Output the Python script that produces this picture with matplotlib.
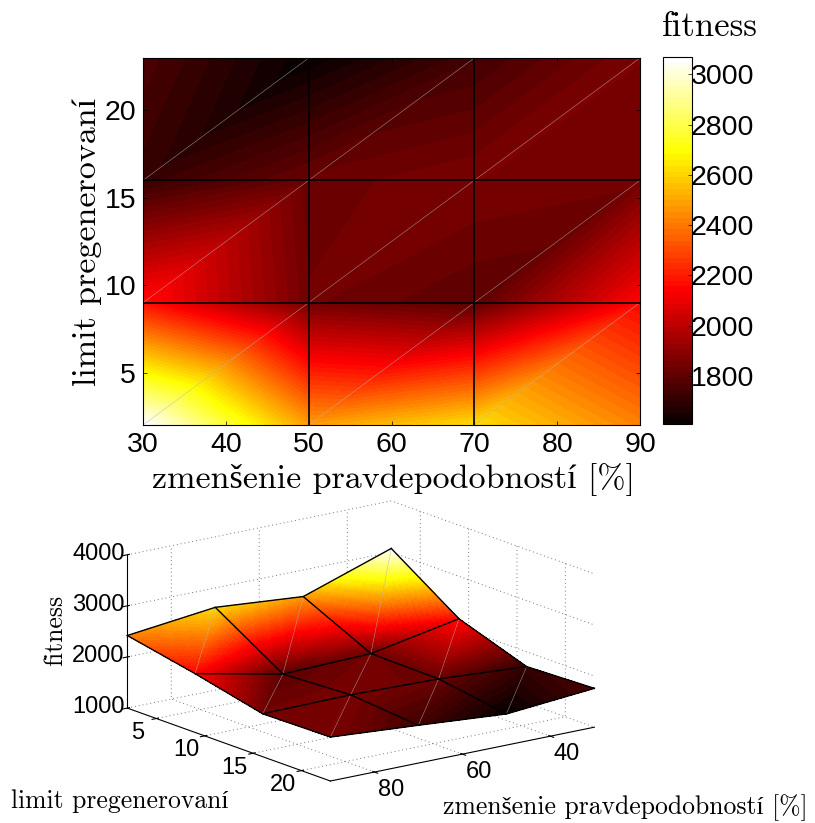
import numpy as np
import matplotlib
matplotlib.use('Agg')
import matplotlib.pyplot as plt
import matplotlib.tri as mtri
from matplotlib.cm import ScalarMappable
from matplotlib.colors import Normalize

plt.rcParams['font.family'] = ['Liberation Sans', 'DejaVu Sans']
plt.rcParams['grid.linestyle'] = (0, (1, 3))
plt.rcParams['grid.color'] = '#777777'
plt.rcParams['grid.linewidth'] = 0.7

## data
zmensenie = [30, 50, 70, 90]
limit = [2, 9, 16, 23]
fit_y2 = [3070, 2480, 2620, 2420]
fit_y9 = [2170, 1840, 1790, 2150]
fit_y16 = [1710, 1820, 1860, 1840]
fit_y23 = [1760, 1610, 1740, 1860]
xticks_top = [30, 40, 50, 60, 70, 80, 90]
yticks_top = [5, 10, 15, 20]
cbar_ticks = [1800, 2000, 2200, 2400, 2600, 2800, 3000]
xticks_3d = [40, 60, 80]
zticks_3d = [1000, 2000, 3000, 4000]
cmin, cmax = 1608, 3069

label_x = 'zmenšenie pravdepodobností [%]'
label_y = 'limit pregenerovaní'
label_z = 'fitness'
cm_font = ['cmr10', 'Liberation Serif']

X, Y = np.meshgrid(zmensenie, limit)
Z = np.array([fit_y2, fit_y9, fit_y16, fit_y23], dtype=float)
nx, ny = len(zmensenie), len(limit)

# every cell is two triangles, diagonal goes lower left -> upper right
tris = []
for j in range(ny - 1):
    for i in range(nx - 1):
        a = j * nx + i
        tris.append([a, a + 1, a + nx + 1])
        tris.append([a, a + nx + 1, a + nx])
tri = mtri.Triangulation(X.ravel(), Y.ravel(), tris)

cmap = plt.get_cmap('hot', 64)
norm = Normalize(cmin, cmax)
levels = np.linspace(cmin, cmax, 65)

fig = plt.figure(figsize=(8.15, 8.23), dpi=100)

## 2D map
W, H = 815.0, 823.0
ax = fig.add_axes([143 / W, 1 - 425 / H, 497 / W, 367 / H])
ax.tricontourf(tri, Z.ravel(), levels=levels, cmap=cmap, norm=norm, extend='both', antialiased=False)
for i in range(nx - 1):
    for j in range(ny - 1):
        ax.plot([zmensenie[i], zmensenie[i + 1]], [limit[j], limit[j + 1]], color='#b4b4b4', lw=0.3)
for v in zmensenie[1:-1]:
    ax.axvline(v, color='k', lw=1.2)
for v in limit[1:-1]:
    ax.axhline(v, color='k', lw=1.2)
ax.set_xlim(30, 90)
ax.set_ylim(2, 23)
ax.set_xticks(xticks_top)
ax.set_yticks(yticks_top)
ax.tick_params(direction='in', labelsize=20.5, length=3, width=0.5, top=True, right=True, pad=5)
ax.set_xlabel(label_x, fontsize=24.5, family=cm_font, labelpad=-1)
ax.set_ylabel(label_y, fontsize=24.5, family=cm_font, labelpad=2)
ax.xaxis.set_label_coords(0.505, -0.103)

## colorbar
cax = fig.add_axes([663 / W, 1 - 424 / H, 29 / W, 367 / H])
cb = fig.colorbar(ScalarMappable(norm=norm, cmap=cmap), cax=cax, ticks=cbar_ticks)
cb.ax.tick_params(direction='in', labelsize=20.5, length=3, width=0.5, pad=-1)
cb.outline.set_linewidth(0.8)
fig.text(710 / W, 1 - 27 / H, label_z, fontsize=25, family=cm_font, ha='center', va='center')

## 3D surface
ax3 = fig.add_axes([-0.038, 0.0055, 0.95, 0.42], projection='3d')
ax3.set_proj_type('ortho')
ax3.view_init(elev=15.7, azim=53)
ax3.set_box_aspect((332, 339, 160), zoom=1.40)
ax3.patch.set_alpha(0)

# linear on each triangle, only so the colour can vary inside a facet
fine = mtri.UniformTriRefiner(tri).refine_field(Z.ravel(), triinterpolator=mtri.LinearTriInterpolator(tri, Z.ravel()), subdiv=5)
surf = ax3.plot_trisurf(fine[0], fine[1], cmap=cmap, norm=norm, linewidth=0, antialiased=False, zorder=1)
surf.set_clip_on(False)
ax3.computed_zorder = False
for j in range(ny):
    ax3.plot(X[j], Y[j], Z[j], color='k', lw=1.0, zorder=3, clip_on=False)
for i in range(nx):
    ax3.plot(X[:, i], Y[:, i], Z[:, i], color='k', lw=1.0, zorder=3, clip_on=False)
for i in range(nx - 1):
    for j in range(ny - 1):
        ax3.plot([zmensenie[i], zmensenie[i + 1]], [limit[j], limit[j + 1]], [Z[j, i], Z[j + 1, i + 1]],
                 color='#b4b4b4', lw=0.3, zorder=2, clip_on=False)

ax3.set_xlim(30, 90)
ax3.set_ylim(2, 23)
ax3.set_zlim(1000, 4000)
ax3.set_xticks(xticks_3d)
ax3.set_yticks(yticks_top)
ax3.set_zticks(zticks_3d)
ax3.tick_params(labelsize=17, pad=0)
ax3.tick_params(axis='x', pad=2.5)
ax3.tick_params(axis='y', pad=1)
for a in (ax3.xaxis, ax3.yaxis, ax3.zaxis):
    a.set_pane_color((1, 1, 1, 0))
    a.pane.set_edgecolor((1, 1, 1, 0))
    for t in a.get_major_ticks():
        t.label1.set_va('center')

fig.text(120 / W, 1 - 801 / H, label_y, fontsize=18.5, family=cm_font, ha='center', va='center')
fig.text(625 / W, 1 - 808 / H, label_x, fontsize=18.5, family=cm_font, ha='center', va='center')
fig.text(55 / W, 1 - 630 / H, label_z, fontsize=18.5, family=cm_font, ha='center', va='center', rotation=90)

fig.savefig('out.png', dpi=100)
